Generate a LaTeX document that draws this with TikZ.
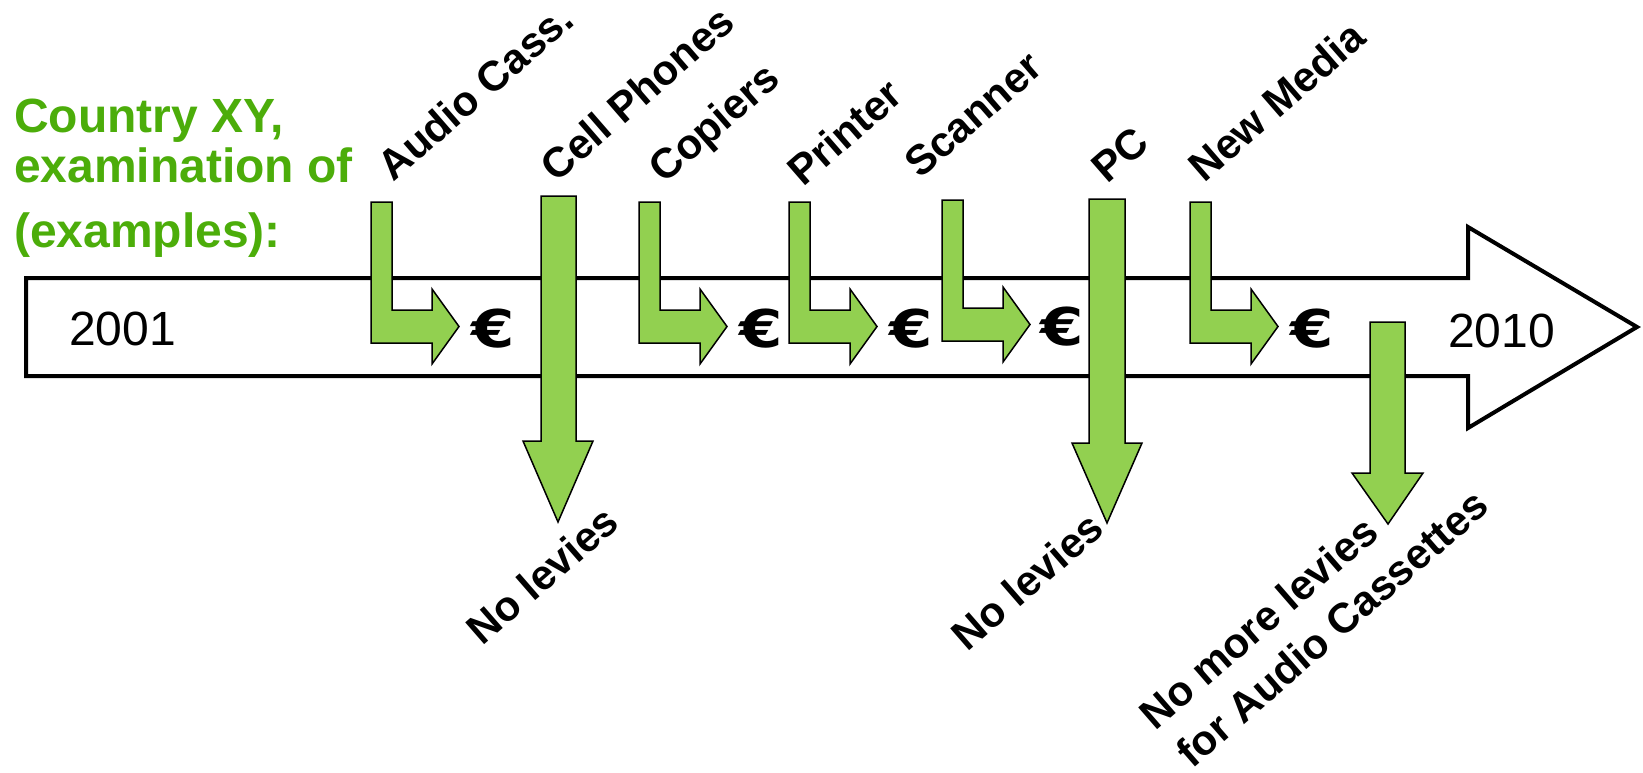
\documentclass[tikz,border=0pt]{standalone}
\usepackage{fontspec}
\setmainfont{Liberation Sans}
\newfontfamily\eurofont{DejaVu Sans}
\definecolor{arrowgreen}{RGB}{146,208,80}
\definecolor{textgreen}{RGB}{76,173,10}
\newcommand{\eurosym}{\scalebox{1.2}[1]{€}}
\begin{document}
\begin{tikzpicture}[x=1pt,y=-1pt,
  mainarrow/.style={draw=black, line width=4pt, fill=white, line join=miter},
  greenarrow/.style={draw=black, line width=1.5pt, fill=arrowgreen, line join=miter},
  lbl/.style={font=\fontsize{42}{53}\selectfont\bfseries, rotate=41, anchor=base west, inner sep=0pt},
  yearlbl/.style={font=\fontsize{48}{56}\selectfont, anchor=base west, inner sep=0pt},
  eurolbl/.style={font=\eurofont\fontsize{52}{60}\selectfont\bfseries, anchor=base, inner sep=0pt},
  titlelbl/.style={font=\fontsize{48}{50}\selectfont\bfseries, text=textgreen, anchor=base west, inner sep=0pt},
  bentarr/.pic={
    \path[greenarrow] (0,202) -- (21,202) -- (21,310) -- (61,310) -- (61,289)
      -- (88,326.5) -- (61,364) -- (61,343) -- (0,343) -- cycle;
  }
]
\useasboundingbox (0,0) rectangle (1643,772);
% main timeline arrow
\draw[mainarrow] (26,278) -- (1468,278) -- (1468,227) -- (1637,327) -- (1468,428)
  -- (1468,376) -- (26,376) -- cycle;
\node[yearlbl] (y2001) at (69,345) {2001};
\node[yearlbl] (y2010) at (1448,347) {2010};
% bent arrows
\pic at (371,0) {bentarr};
\pic at (639,0) {bentarr};
\pic at (789,0) {bentarr};
\pic at (942,-2) {bentarr};
\pic at (1190,0) {bentarr};
% euro signs
\node[eurolbl] (e1) at (493,347) {\eurosym};
\node[eurolbl] (e2) at (761,347) {\eurosym};
\node[eurolbl] (e3) at (911,347) {\eurosym};
\node[eurolbl] (e4) at (1062,345) {\eurosym};
\node[eurolbl] (e5) at (1312,347) {\eurosym};
% down arrows
\path[greenarrow] (541,196) -- (576,196) -- (576,441) -- (593,441) -- (558,522)
  -- (523,441) -- (541,441) -- cycle;
\path[greenarrow] (1089,199) -- (1125,199) -- (1125,443) -- (1142,443) -- (1107,523)
  -- (1072,443) -- (1089,443) -- cycle;
\path[greenarrow] (1370,322) -- (1405,322) -- (1405,473) -- (1423,473) -- (1388,524)
  -- (1352,473) -- (1370,473) -- cycle;
% title
\node[titlelbl] (t1) at (14,132) {Country XY,};
\node[titlelbl] (t2) at (14,182) {examination of};
\node[titlelbl] (t3) at (14,247) {(examples):};
% top labels
\node[lbl] (l1) at (393,183) {Audio Cass.};
\node[lbl] (l2) at (556,184) {Cell Phones};
\node[lbl] (l3) at (664,185) {Copiers};
\node[lbl] (l4) at (803,188) {Printer};
\node[lbl] (l5) at (920,180) {Scanner};
\node[lbl] (l6) at (1107,185) {PC};
\node[lbl] (l7) at (1204,184) {New Media};
% bottom labels
\node[lbl] (b1) at (482,647) {No levies};
\node[lbl] (b2) at (967,653) {No levies};
\node[lbl] (b3) at (1155,732) {No more levies};
\node[lbl] (b4) at (1192,770) {for Audio Cassettes};
\end{tikzpicture}
\end{document}
